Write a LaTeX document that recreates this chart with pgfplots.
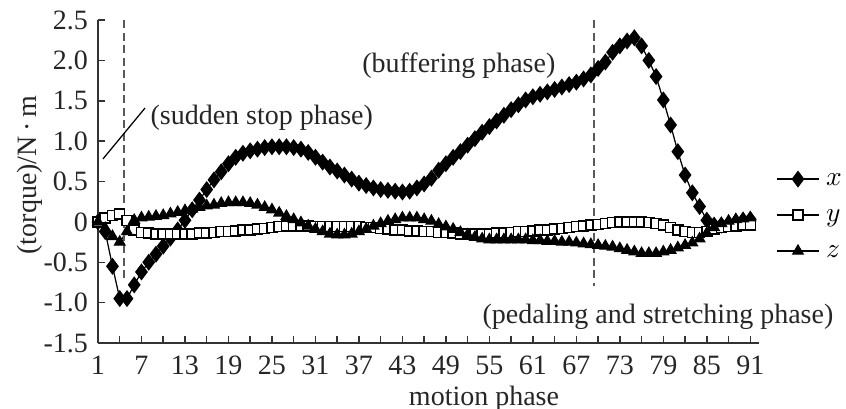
\documentclass[border=0pt]{standalone}
\usepackage{fontspec}
\setmainfont{Liberation Serif}
\usepackage{pgfplots}
\usepackage{pgfplotstable}
\pgfplotsset{compat=1.18}

\pgfplotstableread{
t X Y Z
1 0.00 0.00 0.00
2 -0.12 0.05 -0.08
3 -0.55 0.08 -0.18
4 -0.95 0.10 -0.25
5 -0.95 0.02 -0.12
6 -0.78 -0.10 0.02
7 -0.62 -0.13 0.05
8 -0.50 -0.14 0.06
9 -0.40 -0.15 0.07
10 -0.30 -0.15 0.08
11 -0.20 -0.15 0.10
12 -0.10 -0.15 0.12
13 0.02 -0.15 0.14
14 0.15 -0.15 0.16
15 0.27 -0.14 0.18
16 0.40 -0.14 0.20
17 0.52 -0.13 0.21
18 0.62 -0.12 0.23
19 0.72 -0.12 0.24
20 0.80 -0.11 0.24
21 0.85 -0.10 0.24
22 0.88 -0.10 0.23
23 0.90 -0.09 0.21
24 0.92 -0.08 0.18
25 0.93 -0.07 0.15
26 0.93 -0.06 0.11
27 0.93 -0.05 0.07
28 0.92 -0.05 0.03
29 0.90 -0.05 -0.01
30 0.86 -0.05 -0.05
31 0.80 -0.06 -0.09
32 0.74 -0.06 -0.12
33 0.68 -0.06 -0.15
34 0.63 -0.06 -0.16
35 0.58 -0.06 -0.16
36 0.53 -0.06 -0.15
37 0.48 -0.06 -0.12
38 0.45 -0.07 -0.09
39 0.42 -0.07 -0.05
40 0.40 -0.08 -0.02
41 0.39 -0.09 0.01
42 0.38 -0.10 0.03
43 0.37 -0.10 0.05
44 0.38 -0.11 0.05
45 0.42 -0.11 0.05
46 0.47 -0.12 0.03
47 0.54 -0.12 0.01
48 0.64 -0.13 -0.03
49 0.72 -0.13 -0.06
50 0.80 -0.14 -0.09
51 0.87 -0.15 -0.13
52 0.95 -0.15 -0.16
53 1.03 -0.15 -0.19
54 1.11 -0.15 -0.21
55 1.18 -0.15 -0.22
56 1.25 -0.14 -0.22
57 1.32 -0.14 -0.22
58 1.39 -0.13 -0.22
59 1.45 -0.12 -0.22
60 1.51 -0.12 -0.22
61 1.55 -0.11 -0.23
62 1.58 -0.10 -0.23
63 1.61 -0.10 -0.24
64 1.64 -0.09 -0.24
65 1.67 -0.08 -0.25
66 1.70 -0.07 -0.25
67 1.73 -0.06 -0.26
68 1.77 -0.05 -0.27
69 1.82 -0.04 -0.28
70 1.90 -0.03 -0.29
71 1.98 -0.02 -0.30
72 2.10 -0.01 -0.31
73 2.18 0.00 -0.33
74 2.24 0.00 -0.35
75 2.28 0.00 -0.37
76 2.18 0.00 -0.39
77 2.00 -0.01 -0.39
78 1.80 -0.02 -0.39
79 1.51 -0.04 -0.37
80 1.20 -0.07 -0.35
81 0.87 -0.10 -0.32
82 0.58 -0.12 -0.29
83 0.36 -0.13 -0.26
84 0.19 -0.13 -0.21
85 0.02 -0.12 -0.14
86 -0.04 -0.09 -0.07
87 -0.04 -0.07 -0.02
88 -0.02 -0.06 0.01
89 0.00 -0.05 0.03
90 0.02 -0.04 0.04
91 0.03 -0.04 0.05
}\torque

\newcommand\lblfont{\fontsize{11.2}{13.4}\selectfont}

\begin{document}
\begin{tikzpicture}
\begin{axis}[
  name=ax,
  scale only axis,
  width=264.4pt, height=129.2pt,
  xmin=1, xmax=92.2,
  ymin=-1.5, ymax=2.5,
  axis lines=left,
  axis line style={-, line width=0.8pt, black!80},
  clip=false,
  tick align=inside,
  major tick length=3pt,
  minor tick length=3pt,
  tick style={line width=0.6pt, black!80},
  xtick={1,7,...,91},
  minor xtick={4,10,...,88},
  ytick={-1.5,-1,-0.5,0,0.5,1,1.5,2,2.5},
  yticklabels={-1.5,-1.0,-0.5,0,0.5,1.0,1.5,2.0,2.5},
  /pgf/number format/assume math mode=true,
  ticklabel style={font=\lblfont, black!85},
  xticklabel style={yshift=-1.8pt},
  yticklabel style={xshift=-0.5pt},
  every axis y label/.style={at={(rel axis cs:-0.103,0.52)}, rotate=90, anchor=center, font=\lblfont, black!85},
  every axis x label/.style={at={(rel axis cs:0.584,-0.172)}, anchor=center, font=\lblfont, black!85},
  ylabel={(torque)/N\,·\,m},
  xlabel={motion phase},
  legend style={draw=none, fill=none, at={(rel axis cs:1.025,0.396)}, anchor=west,
    inner sep=0pt, row sep=0pt,
    nodes={text height=7.5pt, text depth=2pt, inner sep=2.45pt, font=\lblfont}},
  legend cell align=left,
]
\addplot[black, line width=0.5pt, mark=diamond*, mark size=3pt, mark options={fill=black}] table[x=t, y=X] {\torque};
\addlegendentry{$x$}
\addplot[black, line width=0.5pt, mark=square*, mark size=2pt, mark options={fill=white, line width=0.6pt}] table[x=t, y=Y] {\torque};
\addlegendentry{$y$}
\addplot[black, line width=0.5pt, mark=triangle*, mark size=2.4pt, mark options={fill=black}] table[x=t, y=Z] {\torque};
\addlegendentry{$z$}

\draw[black!65, line width=0.7pt, dash pattern=on 3.2pt off 1.8pt] (axis cs:4.6,2.5) -- (axis cs:4.6,-0.72);
\draw[black!65, line width=0.7pt, dash pattern=on 3.2pt off 1.8pt] (axis cs:69.4,2.5) -- (axis cs:69.4,-0.80);
\draw[black, line width=0.5pt] (axis cs:1.69,0.78) -- (axis cs:7.49,1.41);
\node[anchor=west, inner sep=0pt, font=\lblfont, black!85] at (axis cs:8.18,1.29) {(sudden stop phase)};
\node[anchor=west, inner sep=0pt, font=\lblfont, black!85] at (axis cs:37.4,1.94) {(buffering phase)};
\node[anchor=west, inner sep=0pt, font=\lblfont, black!85] at (axis cs:54.0,-1.18) {(pedaling and stretching phase)};
\end{axis}
\pgfresetboundingbox
\path[use as bounding box] ([xshift=-39.2pt,yshift=-26.4pt]ax.south west) rectangle ([xshift=34.8pt,yshift=8pt]ax.north east);
\end{tikzpicture}
\end{document}
